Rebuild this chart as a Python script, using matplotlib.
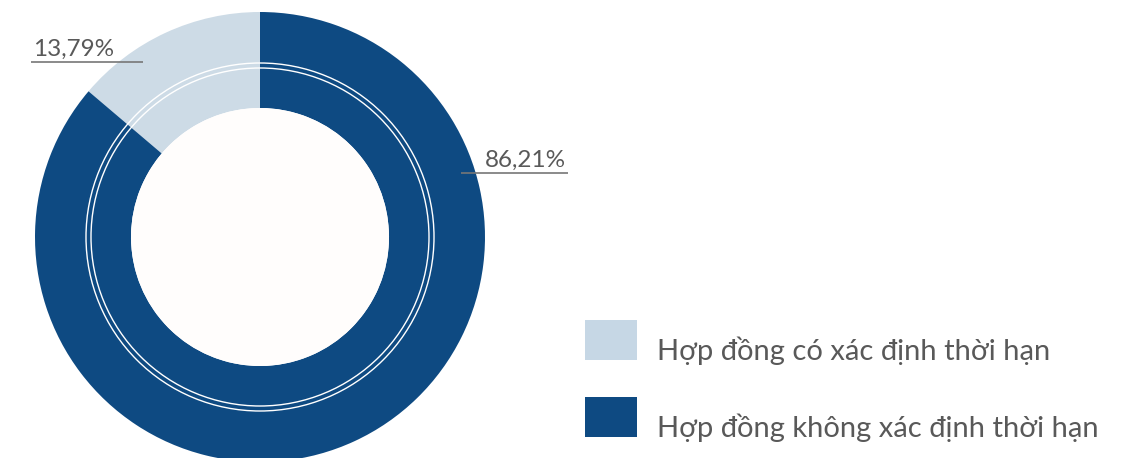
import numpy as np
import matplotlib.pyplot as plt
from matplotlib.patches import Rectangle, Circle

labels = ['Hợp đồng có xác định thời hạn', 'Hợp đồng không xác định thời hạn']
shares = [13.79, 86.21]
colors = ['#cddbe6', '#0e4a82']
legend_colors = ['#c6d7e5', '#0e4a82']

plt.rcParams['font.family'] = ['Lato', 'Noto Sans', 'DejaVu Sans']
text_color = '#595959'

W, H = 1121, 458
fig = plt.figure(figsize=(W / 100, H / 100), dpi=100)
ax = fig.add_axes([0, 0, 1, 1])

# pixel-like coordinates, y measured from the bottom
cx, cy = 260, H - 237
r_out, r_hole = 225, 129

ax.pie(shares, colors=colors, radius=r_out, center=(cx, cy), startangle=90,
       counterclock=True, wedgeprops=dict(width=r_out - r_hole, linewidth=0))
ax.add_patch(Circle((cx, cy), r_hole, facecolor='#fffdfc', edgecolor='none', zorder=3))
# thin double white ring through the band
for r in (169, 174):
    ax.add_patch(Circle((cx, cy), r, facecolor='none', edgecolor='white', linewidth=1.0, zorder=3))

def pct(v):
    return f'{v:.2f}'.replace('.', ',') + '%'

# value labels with underline leaders
label_pos = [(31, 143, H - 62, 33), (461, 568, H - 173, 485)]
for v, (x0, x1, y, tx) in zip(shares, label_pos):
    ax.plot([x0, x1], [y, y], color='#777777', linewidth=1.2, zorder=4, solid_capstyle='butt')
    ax.text(tx, y + 2, pct(v), fontsize=17.5, color=text_color,
            ha='left', va='bottom', zorder=5)

# legend
for i, (lab, c) in enumerate(zip(labels, legend_colors)):
    top = 320 + i * 77
    ax.add_patch(Rectangle((585, H - top - 40), 52, 40, facecolor=c, edgecolor='none'))
    ax.text(657, H - top - 40, lab, fontsize=21, color=text_color,
            ha='left', va='baseline')

ax.set_xlim(0, W)
ax.set_ylim(0, H)
ax.set_aspect('equal')
ax.axis('off')

fig.savefig('out.png', dpi=100, facecolor='white')
